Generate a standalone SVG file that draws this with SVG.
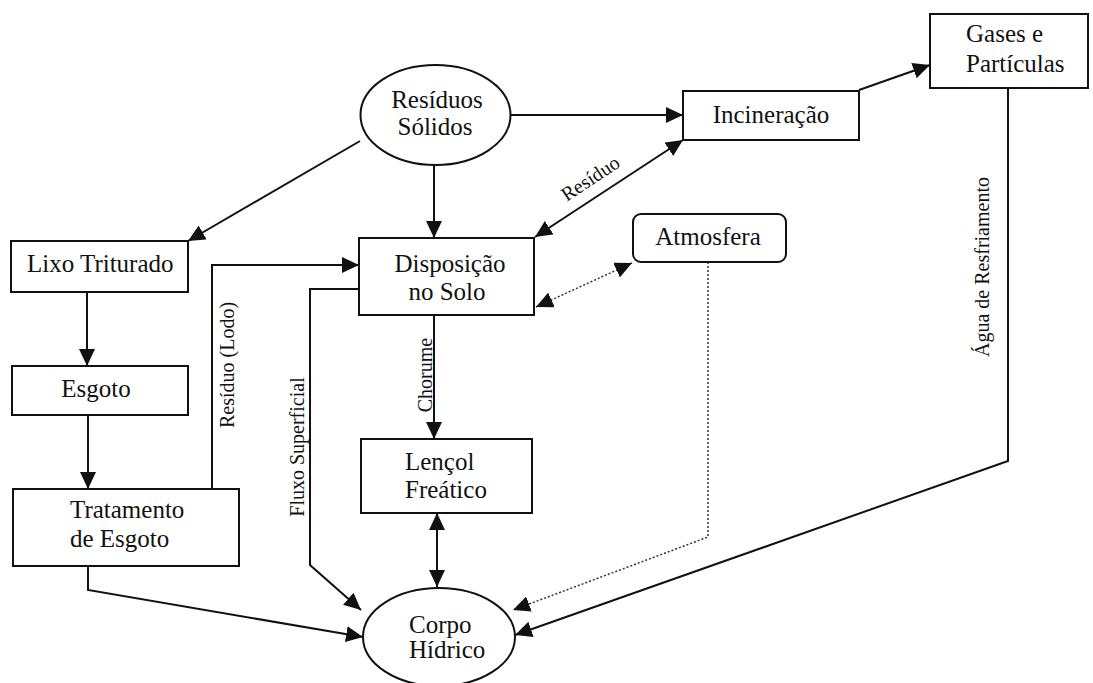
<svg xmlns="http://www.w3.org/2000/svg" width="1093" height="683" viewBox="0 0 1093 683" font-family="'Liberation Serif', 'DejaVu Serif', serif">
<style>
text{font-family:'Liberation Serif','DejaVu Serif',serif;fill:#111}
.n{font-size:25px}
.l{font-size:20px}
.shape{fill:#fff;stroke:#111;stroke-width:2}
.c{fill:none;stroke:#111;stroke-width:2}
.d{fill:none;stroke:#333;stroke-width:1.5;stroke-dasharray:2 2}
</style>
<defs>
<marker id="a" markerUnits="userSpaceOnUse" markerWidth="17" markerHeight="16" refX="17" refY="8" orient="auto-start-reverse" viewBox="0 0 17 16">
<path d="M0,0 L17,8 L0,16 z" fill="#111"/>
</marker>
</defs>
<rect width="1093" height="683" fill="#fff"/>
<g id="connectors">
<path class="c" d="M510,115 L683,115" marker-end="url(#a)"/>
<path class="c" d="M434,165 L434,238" marker-end="url(#a)"/>
<path class="c" d="M360,141 L188,241" marker-end="url(#a)"/>
<path class="c" d="M859,90 L930,65" marker-end="url(#a)"/>
<path class="c" d="M683,140 L535,237" marker-start="url(#a)" marker-end="url(#a)"/>
<path class="d" d="M536,307 L632,263" marker-start="url(#a)" marker-end="url(#a)"/>
<path class="d" d="M708,262 L708,537 L513,610" marker-end="url(#a)"/>
<path class="c" d="M1008,88 L1008,461 L515,635" marker-end="url(#a)"/>
<path class="c" d="M87,292 L87,366" marker-end="url(#a)"/>
<path class="c" d="M88,415 L88,489" marker-end="url(#a)"/>
<path class="c" d="M212,489 L212,265 L359,265" marker-end="url(#a)"/>
<path class="c" d="M359,289 L310,289 L310,565 L361,610" marker-end="url(#a)"/>
<path class="c" d="M434,315 L434,439" marker-end="url(#a)"/>
<path class="c" d="M437,513 L437,587" marker-start="url(#a)" marker-end="url(#a)"/>
<path class="c" d="M88,566 L88,590 L363,637" marker-end="url(#a)"/>
<text class="l" transform="translate(594,184) rotate(-33.5)" text-anchor="middle">Resíduo</text>
<text class="l" transform="translate(234,365) rotate(-90)" text-anchor="middle">Resíduo (Lodo)</text>
<text class="l" transform="translate(304,447) rotate(-90)" text-anchor="middle">Fluxo Superficial</text>
<text class="l" transform="translate(432,375) rotate(-90)" text-anchor="middle">Chorume</text>
<text class="l" transform="translate(989,267) rotate(-90)" text-anchor="middle">Água de Resfriamento</text>
</g>
<g id="residuos-solidos">
<ellipse class="shape" cx="435.5" cy="115" rx="75" ry="50"/>
<text class="n" x="437" y="108" text-anchor="middle">Resíduos</text>
<text class="n" x="435" y="135" text-anchor="middle">Sólidos</text>
</g>
<g id="incineracao">
<rect class="shape" x="683" y="91" width="176" height="49"/>
<text class="n" x="771" y="123" text-anchor="middle">Incineração</text>
</g>
<g id="gases-particulas">
<rect class="shape" x="930" y="14" width="158" height="74"/>
<text class="n" x="966" y="42">Gases e</text>
<text class="n" x="966" y="72">Partículas</text>
</g>
<g id="lixo-triturado">
<rect class="shape" x="11" y="241" width="177" height="51"/>
<text class="n" x="27" y="272">Lixo Triturado</text>
</g>
<g id="disposicao-solo">
<rect class="shape" x="359" y="238" width="175" height="77"/>
<text class="n" x="450" y="272" text-anchor="middle">Disposição</text>
<text class="n" x="447" y="300" text-anchor="middle">no Solo</text>
</g>
<g id="atmosfera">
<rect class="shape" x="633" y="214" width="153" height="48" rx="8"/>
<text class="n" x="708" y="245" text-anchor="middle">Atmosfera</text>
</g>
<g id="esgoto">
<rect class="shape" x="12" y="366" width="176" height="49"/>
<text class="n" x="96" y="397" text-anchor="middle">Esgoto</text>
</g>
<g id="tratamento-esgoto">
<rect class="shape" x="13" y="489" width="226" height="77"/>
<text class="n" x="70" y="518">Tratamento</text>
<text class="n" x="70" y="547">de Esgoto</text>
</g>
<g id="lencol-freatico">
<rect class="shape" x="361" y="439" width="171" height="74"/>
<text class="n" x="405" y="470">Lençol</text>
<text class="n" x="405" y="498">Freático</text>
</g>
<g id="corpo-hidrico">
<ellipse class="shape" cx="439" cy="637" rx="76" ry="49"/>
<text class="n" x="409" y="633">Corpo</text>
<text class="n" x="409" y="658">Hídrico</text>
</g>
</svg>
